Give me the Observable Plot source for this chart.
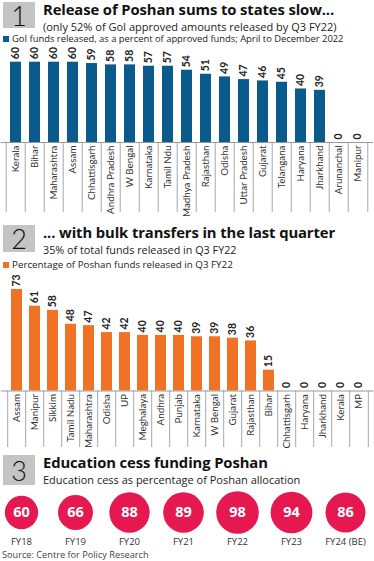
<!DOCTYPE html>
<html><head><meta charset="utf-8">
<script src="https://cdn.jsdelivr.net/npm/d3@7"></script>
<script src="https://cdn.jsdelivr.net/npm/@observablehq/plot@0.6"></script>
<style>
body{margin:0;background:#fff;}
#root{position:relative;width:374px;height:561px;overflow:hidden;font-family:"Open Sans",sans-serif;color:#111;}
.box{position:absolute;left:3px;width:32px;background:#c4c4c4;color:#111;font-family:Lato;font-weight:300;font-size:27px;text-align:center;overflow:visible;}
.title{position:absolute;left:43px;font-weight:bold;font-size:14.8px;line-height:15px;white-space:nowrap;letter-spacing:-0.1px;}
.sub{position:absolute;left:43px;font-size:11px;line-height:12px;white-space:nowrap;color:#222;}
.leg{position:absolute;left:3px;font-size:9.4px;line-height:10px;white-space:nowrap;color:#222;display:flex;align-items:center;}
.sw{display:inline-block;width:6px;height:6px;margin-right:3px;}
.chart{position:absolute;left:0;}
.src{position:absolute;left:2px;top:549px;font-size:9.2px;line-height:11px;color:#444;white-space:nowrap;}
</style></head><body>
<div id="root">
  <div class="box" style="top:2px;height:26px;line-height:27px;">1</div>
  <div class="title" style="top:2px;">Release of Poshan sums to states slow...</div>
  <div class="sub" style="top:20.5px;">(only 52% of GoI approved amounts released by Q3 FY22)</div>
  <div class="leg" style="top:34px;"><span class="sw" style="background:#0b5a8c"></span>GoI funds released, as a percent of approved funds; April to December 2022</div>
  <div class="chart" id="c1" style="top:40px;"></div>

  <div class="box" style="top:225px;height:27px;line-height:28px;">2</div>
  <div class="title" style="top:225px;">... with bulk transfers in the last quarter</div>
  <div class="sub" style="top:243.5px;font-size:10.8px;">35% of total funds released in Q3 FY22</div>
  <div class="leg" style="top:260px;font-size:9.8px;"><span class="sw" style="background:#f07224"></span>Percentage of Poshan funds released in Q3 FY22</div>
  <div class="chart" id="c2" style="top:270px;"></div>

  <div class="box" style="top:455px;height:30px;line-height:31px;">3</div>
  <div class="title" style="top:455px;">Education cess funding Poshan</div>
  <div class="sub" style="top:473.5px;">Education cess as percentage of Poshan allocation</div>
  <div class="chart" id="c3" style="top:490px;"></div>
  <div class="src">Source: Centre for Policy Research</div>
</div>
<script>
// Chart 1: GoI funds released (% of approved), Apr–Dec 2022
const states1 = ["Kerala","Bihar","Maharashtra","Assam","Chhattisgarh","Andhra Pradesh","W Bengal","Karnataka","Tamil Ndu","Madhya Pradesh","Rajasthan","Odisha","Uttar Pradesh","Gujarat","Telangana","Haryana","Jharkhand","Arunanchal","Manipur"];
const released1 = [60,60,60,60,59,58,58,57,57,54,51,49,47,46,45,40,39,0,0];

// Chart 2: Percentage of Poshan funds released in Q3 FY22
const states2 = ["Assam","Manipur","Sikkim","Tamil Nadu","Maharashtra","Odisha","UP","Meghalaya","Andhra","Punjab","Karnataka","W Bengal","Gujarat","Rajasthan","Bihar","Chhattisgarh","Haryana","Jharkhand","Kerala","MP"];
const q3share = [73,61,58,48,47,42,42,40,40,40,39,39,38,36,15,0,0,0,0,0];

// Chart 3: Education cess as percentage of Poshan allocation
const years = ["FY18","FY19","FY20","FY21","FY22","FY23","FY24 (BE)"];
const cessShare = [60,66,88,89,98,94,86];

const W = 374;
function barChart({cats, vals, color, height, mt, mb, ml, mr, ymax, sepDepth}) {
  const n = cats.length;
  const step = (W - ml - mr) / n;
  const data = cats.map((c, i) => ({c, v: vals[i]}));
  const pxPerUnit = (height - mt - mb) / ymax;
  const sepBottom = -sepDepth / pxPerUnit;
  return Plot.plot({
    width: W, height, marginLeft: ml, marginRight: mr, marginTop: mt, marginBottom: mb,
    x: {type: "band", domain: cats, paddingInner: 0.4, paddingOuter: 0.2, axis: null},
    y: {domain: [0, ymax], axis: null},
    style: {fontFamily: "Lato, sans-serif", background: "transparent", overflow: "visible"},
    marks: [
      Plot.ruleX(data, {x: "c", y1: 0, y2: sepBottom, dx: -step / 2, stroke: "#a8a8a8", strokeWidth: 1}),
      Plot.ruleX([cats[n - 1]], {x: d => d, y1: 0, y2: sepBottom, dx: step / 2, stroke: "#a8a8a8", strokeWidth: 1}),
      Plot.barY(data, {x: "c", y: "v", fill: color}),
      Plot.ruleY([0], {stroke: "#999", strokeWidth: 1}),
      Plot.text(data, {x: "c", y: "v", text: d => String(d.v), rotate: -90, textAnchor: "start", dy: -3, fontSize: 10.5, fontWeight: "bold", fill: "#222"}),
      Plot.axisX({tickSize: 0, tickPadding: 3, tickRotate: -90, textAnchor: "end", fontSize: 9.8, fill: "#333", label: null})
    ]
  });
}

document.getElementById("c1").appendChild(barChart({
  cats: states1, vals: released1, color: "#0b5a8c",
  height: 175, mt: 21.7, mb: 73, ml: 1, mr: 1, ymax: 60, sepDepth: 70
}));

document.getElementById("c2").appendChild(barChart({
  cats: states2, vals: q3share, color: "#f07224",
  height: 185, mt: 19, mb: 64.5, ml: 1, mr: 0.5, ymax: 73, sepDepth: 56.5
}));

const cessData = years.map((y, i) => ({y, v: cessShare[i]}));
document.getElementById("c3").appendChild(Plot.plot({
  width: W, height: 62, marginLeft: 20, marginRight: 28, marginTop: 0, marginBottom: 18,
  x: {type: "point", domain: years, padding: 0, axis: null},
  r: {type: "sqrt", domain: [0, 100], range: [0, 21.5]},
  style: {fontFamily: "'Open Sans', sans-serif", background: "transparent", overflow: "visible"},
  marks: [
    Plot.dot(cessData, {x: "y", r: "v", fill: "#e5194f", stroke: null}),
    Plot.text(cessData, {x: "y", text: d => String(d.v), fill: "white", fontSize: 14.5, fontWeight: "bold"}),
    Plot.axisX({tickSize: 0, tickPadding: 4, fontSize: 9.5, fill: "#333", label: null})
  ]
}));
</script>
</body></html>
